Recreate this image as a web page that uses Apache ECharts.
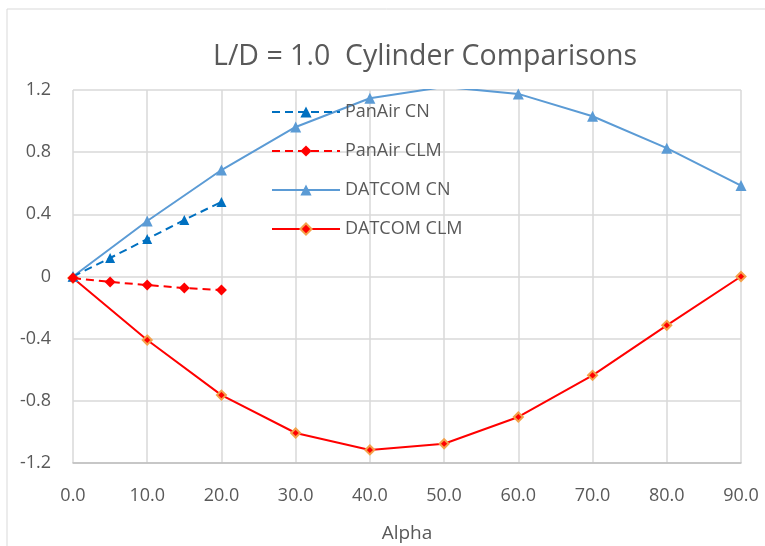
<!DOCTYPE html>
<html><head><meta charset="utf-8">
<script src="https://cdn.jsdelivr.net/npm/echarts@6/dist/echarts.min.js"></script>
<style>html,body{margin:0;padding:0;background:#fff}#c{width:765px;height:546px}</style>
</head><body><div id="c"></div>
<script>
var alphaDatcom = [0, 10, 20, 30, 40, 50, 60, 70, 80, 90];
var datcomCN  = [0, 0.357, 0.685, 0.962, 1.147, 1.22, 1.175, 1.031, 0.826, 0.585];
var datcomCLM = [-0.01, -0.409, -0.763, -1.007, -1.116, -1.076, -0.904, -0.636, -0.314, 0];
var alphaPanair = [0, 5, 10, 15, 20];
var panairCN  = [0, 0.119, 0.241, 0.364, 0.48];
var panairCLM = [-0.01, -0.035, -0.055, -0.074, -0.087];
var xTicks = { min: 0, max: 90, interval: 10 };
var yTicks = { min: -1.2, max: 1.2, interval: 0.4 };

function pairs(xs, ys){ return xs.map(function(x,i){ return [x, ys[i]]; }); }
var font = 'Open Sans';
var chart = echarts.init(document.getElementById('c'));
chart.setOption({
  animation: false,
  textStyle: { fontFamily: font },
  graphic: [{ type: 'rect', shape: { x: 7, y: 9, width: 800, height: 600 },
    style: { fill: 'none', stroke: '#D9D9D9', lineWidth: 1 }, silent: true }],
  title: { text: 'L/D = 1.0  Cylinder Comparisons', left: 208, top: 37,
    textStyle: { fontFamily: font, fontSize: 28.5, fontWeight: 'normal', color: '#595959' } },
  legend: { orient: 'vertical', left: 266, top: 98, itemWidth: 68, itemHeight: 14, itemGap: 21,
    textStyle: { fontFamily: font, fontSize: 18, color: '#595959' },
    data: ['PanAir CN', 'PanAir CLM', 'DATCOM CN', 'DATCOM CLM'] },
  grid: { left: 73, right: 24, top: 90, bottom: 83, containLabel: false, outerBoundsMode: 'none' },
  xAxis: { type: 'value', min: xTicks.min, max: xTicks.max, interval: xTicks.interval,
    name: 'Alpha', nameLocation: 'middle', nameGap: 61,
    nameTextStyle: { fontFamily: font, fontSize: 19, color: '#595959' },
    axisLine: { onZero: false, lineStyle: { color: '#BFBFBF', width: 1.5 } },
    axisTick: { show: false },
    axisLabel: { margin: 24, fontSize: 18, color: '#595959', fontFamily: font,
      formatter: function(v){ return v.toFixed(1); } },
    splitLine: { show: true, lineStyle: { color: '#D9D9D9', width: 1.5 } } },
  yAxis: { type: 'value', min: yTicks.min, max: yTicks.max, interval: yTicks.interval,
    axisLine: { show: false }, axisTick: { show: false },
    axisLabel: { margin: 22, fontSize: 18, color: '#595959', fontFamily: font,
      formatter: function(v){ var r = Math.round(v*10)/10; return r === 0 ? '0' : r.toFixed(1); } },
    splitLine: { show: true, lineStyle: { color: '#D9D9D9', width: 1.5 } } },
  series: [
    { name: 'PanAir CN', type: 'line', data: pairs(alphaPanair, panairCN), symbol: 'triangle', symbolSize: 10,
      lineStyle: { color: '#0070C0', width: 2, type: [8, 5] }, itemStyle: { color: '#0070C0' }, z: 4 },
    { name: 'PanAir CLM', type: 'line', data: pairs(alphaPanair, panairCLM), symbol: 'diamond', symbolSize: 11,
      lineStyle: { color: '#FF0000', width: 2, type: [8, 5] }, itemStyle: { color: '#FF0000' }, z: 4 },
    { name: 'DATCOM CN', type: 'line', data: pairs(alphaDatcom, datcomCN), symbol: 'triangle', symbolSize: 11,
      lineStyle: { color: '#5B9BD5', width: 2 }, itemStyle: { color: '#5B9BD5' }, z: 3 },
    { name: 'DATCOM CLM', type: 'line', data: pairs(alphaDatcom, datcomCLM), symbol: 'diamond', symbolSize: 9,
      lineStyle: { color: '#FF0000', width: 2 }, itemStyle: { color: '#FF0000', borderColor: '#F4A14A', borderWidth: 2 }, z: 3 }
  ]
});
</script></body></html>
